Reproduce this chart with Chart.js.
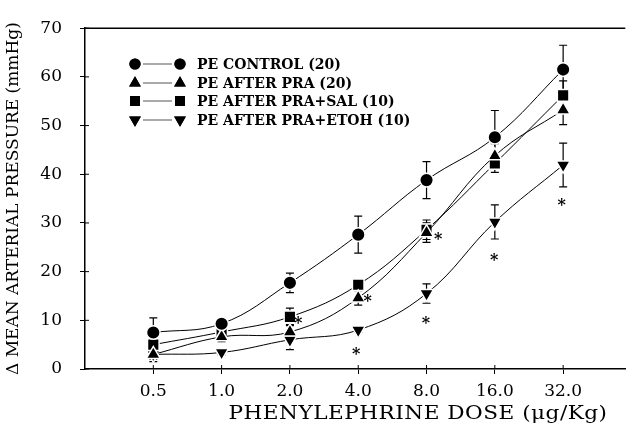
<!DOCTYPE html>
<html>
<head>
<meta charset="utf-8">
<script src="https://cdn.jsdelivr.net/npm/chart.js@4/dist/chart.umd.min.js"></script>
<style>
  body { margin: 0; background: #fff; }
  canvas { display: block; }
</style>
</head>
<body>
<canvas id="doseChart" width="635" height="428"></canvas>
<script>
const doses = ["0.5", "1.0", "2.0", "4.0", "8.0", "16.0", "32.0"];

const seriesNames = ["PE CONTROL (20)", "PE AFTER PRA (20)", "PE AFTER PRA+SAL (10)", "PE AFTER PRA+ETOH (10)"];

const control = [7.5, 9.3, 17.7, 27.6, 38.8, 47.6, 61.5];
const controlErr = [3.0, 1.0, 2.0, 3.8, 3.8, 5.5, 5.0];

const afterPra = [3.0, 6.6, 7.6, 14.6, 28.0, 43.8, 53.2];
const afterPraErr = [1.5, 1.0, 1.5, 1.5, 2.0, 2.5, 3.0];

const praSal = [5.0, 7.6, 10.7, 17.3, 28.6, 42.2, 56.2];
const praSalErr = [2.0, 1.0, 1.8, 1.0, 2.0, 1.8, 3.0];

const praEtoh = [3.0, 3.4, 6.0, 8.0, 15.5, 30.2, 41.9];
const praEtohErr = [1.0, 0.5, 2.0, 0.5, 2.0, 3.5, 4.5];

// significance marks (x in dose-index units, 1 = 0.5 ug/kg)
const starX = [3.12, 4.14, 3.97, 5.17, 4.99, 5.99, 6.98];
const starY = [9.9, 14.5, 3.6, 27.2, 9.9, 22.9, 34.2];

const xTitle = 'PHENYLEPHRINE DOSE (\u03BCg/Kg)';
const yTitle = '\u0394 MEAN ARTERIAL PRESSURE (mmHg)';

const serif = "'DejaVu Serif', 'Liberation Serif', serif";

function toPoints(values) {
  return values.map((v, i) => ({ x: i + 1, y: v }));
}

function makeSet(label, values, errs, style, radius, rotation) {
  return {
    label: label,
    data: toPoints(values),
    errs: errs,
    borderColor: '#000',
    borderWidth: 1,
    backgroundColor: '#000',
    pointStyle: style,
    pointRadius: radius,
    pointRotation: rotation,
    pointBackgroundColor: '#000',
    pointBorderColor: '#fff',
    pointBorderWidth: 1.5,
    tension: 0.4,
    fill: false
  };
}

const errorBars = {
  id: 'errorBars',
  beforeDatasetsDraw(chart) {
    const ctx = chart.ctx;
    const xs = chart.scales.x, ys = chart.scales.y;
    ctx.save();
    ctx.strokeStyle = '#000';
    ctx.lineWidth = 1.2;
    chart.data.datasets.forEach(ds => {
      ds.data.forEach((p, i) => {
        const e = ds.errs[i];
        const px = xs.getPixelForValue(p.x);
        const top = ys.getPixelForValue(p.y + e);
        const bot = ys.getPixelForValue(p.y - e);
        ctx.beginPath();
        ctx.moveTo(px, top); ctx.lineTo(px, bot);
        ctx.moveTo(px - 4, top); ctx.lineTo(px + 4, top);
        ctx.moveTo(px - 4, bot); ctx.lineTo(px + 4, bot);
        ctx.stroke();
      });
    });
    ctx.restore();
  }
};

const extras = {
  id: 'extras',
  afterDraw(chart) {
    const ctx = chart.ctx;
    const area = chart.chartArea;
    const xs = chart.scales.x, ys = chart.scales.y;
    ctx.save();
    // top frame line
    ctx.strokeStyle = '#000';
    ctx.lineWidth = 1.5;
    ctx.beginPath();
    ctx.moveTo(area.left, area.top);
    ctx.lineTo(area.right, area.top);
    ctx.stroke();
    // inward tick stubs
    ctx.lineWidth = 1;
    xs.ticks.forEach(t => {
      const px = xs.getPixelForValue(t.value);
      ctx.beginPath(); ctx.moveTo(px, area.bottom); ctx.lineTo(px, area.bottom - 4); ctx.stroke();
    });
    ys.ticks.forEach(t => {
      const py = ys.getPixelForValue(t.value);
      ctx.beginPath(); ctx.moveTo(area.left, py); ctx.lineTo(area.left + 4, py); ctx.stroke();
    });
    // x axis title: wide typeface in the original, so stretch it a bit
    ctx.fillStyle = '#000';
    ctx.textAlign = 'center';
    ctx.textBaseline = 'middle';
    ctx.save();
    ctx.translate(418, 414);
    ctx.scale(1.2, 1);
    ctx.font = '18px ' + serif;
    ctx.letterSpacing = '0.4px';
    ctx.fillText(xTitle, 0, 0);
    ctx.restore();
    // asterisks
    ctx.font = 'bold 16px ' + serif;
    starX.forEach((sx, i) => {
      ctx.fillText('*', xs.getPixelForValue(sx), ys.getPixelForValue(starY[i]) + 3);
    });
    // legend
    const rowY = [64, 83, 101, 120];
    ctx.font = 'bold 14px ' + serif;
    ctx.textAlign = 'left';
    chart.data.datasets.forEach((ds, i) => {
      const y = rowY[i];
      ctx.strokeStyle = '#555';
      ctx.lineWidth = 1;
      ctx.beginPath(); ctx.moveTo(143, y); ctx.lineTo(172, y); ctx.stroke();
      ctx.fillStyle = '#000';
      const opts = { pointStyle: ds.pointStyle, radius: ds.pointRadius - 1.2, rotation: ds.pointRotation || 0, borderWidth: 0 };
      Chart.helpers.drawPoint(ctx, opts, 135, y);
      ctx.fill();
      Chart.helpers.drawPoint(ctx, opts, 180, y);
      ctx.fill();
      ctx.fillText(ds.label, 197, y + 1);
    });
    ctx.restore();
  }
};

new Chart(document.getElementById('doseChart'), {
  type: 'line',
  data: {
    datasets: [
      makeSet(seriesNames[0], control, controlErr, 'circle', 6.8, 0),
      makeSet(seriesNames[1], afterPra, afterPraErr, 'triangle', 8, 0),
      makeSet(seriesNames[2], praSal, praSalErr, 'rect', 8.2, 0),
      makeSet(seriesNames[3], praEtoh, praEtohErr, 'triangle', 8, 180)
    ]
  },
  options: {
    responsive: false,
    animation: false,
    layout: { padding: { top: 22, right: 0, left: 0, bottom: 0 } },
    plugins: {
      legend: { display: false },
      tooltip: { enabled: false }
    },
    scales: {
      x: {
        type: 'linear',
        min: 0,
        max: 7.91,
        afterBuildTicks(scale) {
          scale.ticks = doses.map((d, i) => ({ value: i + 1 }));
        },
        afterFit(scale) { scale.height = 59; },
        ticks: {
          color: '#000',
          font: { family: serif, size: 17 },
          padding: 7,
          maxRotation: 0,
          callback: (v) => doses[v - 1]
        },
        grid: { drawOnChartArea: false, color: '#000', tickLength: 5, lineWidth: 1 },
        border: { color: '#000', width: 1.5 }
      },
      y: {
        min: 0,
        max: 70,
        afterFit(scale) { scale.width = 85; },
        ticks: {
          stepSize: 10,
          color: '#000',
          font: { family: serif, size: 17 },
          padding: 18
        },
        grid: { drawOnChartArea: false, color: '#000', tickLength: 5, lineWidth: 1 },
        border: { color: '#000', width: 1.5 },
        title: {
          display: true,
          text: yTitle,
          color: '#000',
          font: { family: serif, size: 17 },
          padding: { top: 3, bottom: 0 }
        }
      }
    }
  },
  plugins: [errorBars, extras]
});
</script>
</body>
</html>
